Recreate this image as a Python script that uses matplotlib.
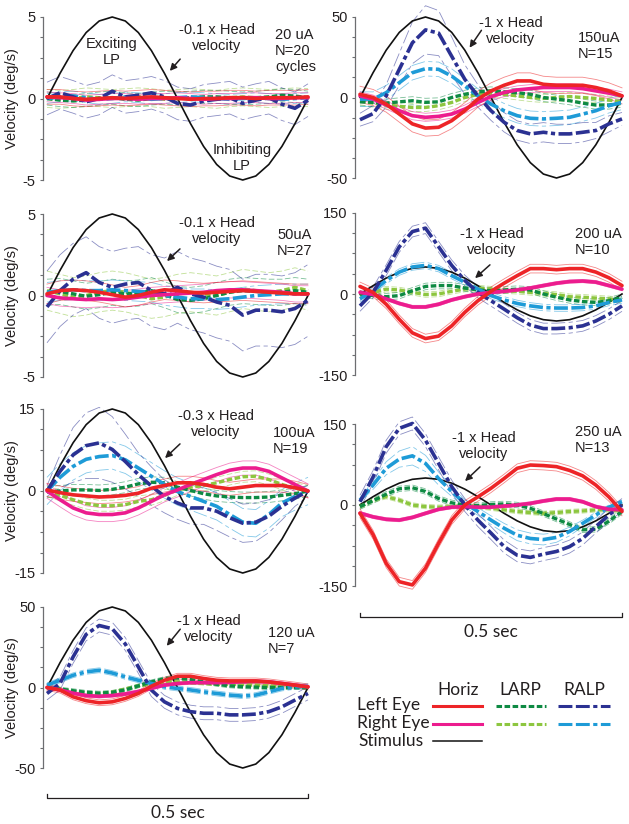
import numpy as np
import matplotlib
matplotlib.use('Agg')
import matplotlib.pyplot as plt
from matplotlib.lines import Line2D
from matplotlib.patches import FancyArrowPatch
import matplotlib.transforms as mtransforms

# ---------------- data ----------------
time = [0.0, 0.05, 0.1, 0.15, 0.2, 0.25, 0.3, 0.35, 0.4, 0.45, 0.5,
        0.55, 0.6, 0.65, 0.7, 0.75, 0.8, 0.85, 0.9, 0.95, 1.0]
stim_shape = [0.0, 0.309, 0.588, 0.809, 0.951, 1.0, 0.951, 0.809, 0.588, 0.309, 0.0,
              -0.309, -0.588, -0.809, -0.951, -1.0, -0.951, -0.809, -0.588, -0.309, 0.0]

# 20 uA
p20_LH = [0.1, 0.1, 0.0, -0.05, 0.0, 0.05, 0.0, 0.05, 0.1, 0.05, 0.0, -0.05, 0.0, 0.0, 0.05, 0.05, 0.0, 0.05, 0.05, 0.05, 0.1]
p20_RH = [0.1, 0.05, 0.0, -0.1, -0.05, 0.0, 0.0, -0.05, 0.0, 0.0, 0.05, 0.0, -0.05, 0.0, 0.0, 0.05, 0.05, 0.0, 0.0, 0.05, 0.05]
p20_LL = [0.0, -0.1, -0.15, -0.1, 0.0, 0.05, -0.05, -0.1, 0.0, 0.05, 0.0, 0.05, 0.1, 0.1, 0.05, 0.0, 0.05, 0.1, 0.2, 0.15, 0.05]
p20_RL = [0.0, -0.05, 0.0, 0.1, 0.05, 0.0, 0.05, 0.1, 0.05, -0.05, 0.0, 0.05, 0.0, -0.05, 0.05, 0.1, 0.05, 0.0, 0.05, 0.1, 0.05]
p20_LR = [0.0, 0.35, 0.1, -0.2, 0.0, 0.45, 0.1, 0.2, 0.35, 0.1, -0.3, -0.4, -0.15, -0.05, 0.05, -0.3, -0.1, 0.05, -0.35, -0.6, -0.1]
p20_RR = [0.0, 0.1, 0.15, 0.05, -0.05, 0.0, 0.1, 0.05, -0.05, 0.0, 0.05, 0.1, 0.05, 0.0, -0.05, 0.0, 0.05, 0.0, -0.05, 0.0, 0.05]
p20_sd = {'LH': 0.45, 'RH': 0.3, 'LL': 0.4, 'RL': 0.55, 'LR': 1.0, 'RR': 0.3}

# 50 uA
p50_LH = [0.1, 0.3, 0.35, 0.3, 0.2, 0.05, -0.1, 0.0, 0.2, 0.35, 0.3, 0.2, 0.15, 0.2, 0.25, 0.3, 0.25, 0.2, 0.15, 0.1, 0.1]
p50_RH = [0.0, -0.15, -0.2, -0.25, -0.2, -0.25, -0.2, -0.1, 0.0, 0.05, 0.1, 0.15, 0.2, 0.3, 0.35, 0.35, 0.3, 0.25, 0.2, 0.1, 0.1]
p50_LL = [0.2, 0.25, 0.1, -0.05, 0.05, 0.2, 0.1, 0.15, 0.3, 0.05, -0.25, -0.3, -0.2, 0.0, 0.2, 0.3, 0.25, 0.2, 0.2, 0.3, 0.2]
p50_RL = [0.3, 0.1, -0.1, 0.0, 0.2, 0.3, 0.2, 0.0, -0.2, -0.1, 0.1, 0.2, 0.1, 0.0, 0.2, 0.4, 0.3, 0.2, 0.3, 0.5, 0.3]
p50_LR = [-0.7, 0.3, 1.0, 1.4, 0.8, 0.5, 0.7, 0.8, 0.3, 0.1, 0.5, 0.1, -0.1, -0.4, -0.6, -1.2, -0.9, -0.9, -1.0, -0.8, -0.3]
p50_RR = [0.2, 0.3, 0.35, 0.3, 0.3, 0.35, 0.3, 0.25, 0.2, 0.0, -0.1, -0.2, -0.2, -0.25, -0.2, -0.1, 0.0, 0.05, 0.1, 0.1, 0.1]
p50_sd = {'LH': 0.6, 'RH': 0.5, 'LL': 0.8, 'RL': 1.2, 'LR': 2.2, 'RR': 0.6}

# 100 uA
p100_LH = [0.2, -0.3, -0.7, -0.9, -1.1, -1.0, -0.8, -0.4, 0.5, 1.0, 1.5, 1.5, 1.2, 0.7, 0.4, 0.7, 1.0, 1.0, 1.0, 0.6, 0.0]
p100_RH = [0.0, -1.6, -3.1, -4.0, -4.3, -4.3, -4.0, -3.1, -1.9, -0.7, 0.2, 1.2, 2.1, 3.0, 3.8, 4.2, 4.2, 3.6, 2.4, 1.2, 0.0]
p100_LL = [-0.2, 0.0, 0.2, 0.2, 0.1, 0.3, 0.7, 1.3, 1.6, 1.5, 0.7, 0.1, -0.5, -0.9, -1.1, -1.2, -1.2, -1.1, -0.8, -0.5, 0.0]
p100_RL = [0.0, -0.8, -1.6, -2.3, -2.7, -2.7, -2.5, -1.9, -1.6, -0.8, 0.2, 0.7, 1.0, 1.5, 2.1, 2.6, 2.7, 2.1, 1.2, 0.5, 0.0]
p100_LR = [0.0, 3.6, 6.6, 8.3, 8.8, 7.6, 5.4, 3.0, 0.9, -1.0, -2.2, -3.1, -3.1, -3.7, -4.9, -5.9, -5.7, -4.6, -2.8, -1.3, 0.0]
p100_RR = [0.0, 2.5, 4.5, 5.8, 6.3, 6.5, 5.7, 4.2, 2.7, 1.2, -0.1, -1.0, -1.9, -2.8, -4.3, -5.7, -5.9, -4.3, -2.2, -1.0, 0.0]
p100_sd = {'LH': 1.2, 'RH': 1.3, 'LL': 1.0, 'RL': 1.0,
           'LR': [1, 3, 5, 6, 6.5, 6, 5, 4, 3.5, 3, 3, 3, 3, 3.5, 3.5, 3.5, 3.5, 3, 2.5, 1.5, 1],
           'RR': 2.5}

# 120 uA
p120_LH = [0.0, -1.6, -5.8, -8.2, -9.5, -8.9, -6.8, -3.7, 0.8, 4.5, 7.0, 7.0, 5.6, 4.5, 4.1, 4.1, 4.1, 3.5, 2.5, 1.5, 0.4]
p120_RH = [0.0, -1.5, -3.5, -5.0, -5.5, -5.0, -4.0, -2.5, -0.5, 1.5, 2.5, 3.0, 3.0, 3.0, 3.2, 3.5, 3.8, 3.5, 2.5, 1.5, 0.5]
p120_LL = [0.0, -1.0, -2.0, -3.0, -3.5, -3.0, -1.5, 1.0, 3.5, 5.5, 6.0, 5.0, 3.5, 2.0, 1.0, 0.5, 0.2, 0.0, 0.0, 0.0, 0.0]
p120_RL = [0.0, -1.0, -2.5, -3.5, -4.0, -3.0, -1.0, 1.0, 2.5, 3.5, 3.5, 3.0, 2.5, 2.0, 2.0, 2.0, 1.5, 1.0, 0.5, 0.3, 0.0]
p120_LR = [-3.7, 2.5, 19.0, 33.0, 38.5, 36.5, 27.0, 12.8, -1.6, -8.9, -13.0, -15.0, -16.0, -16.0, -17.0, -17.0, -16.5, -15.0, -12.0, -7.8, -3.7]
p120_RR = [1.4, 4.5, 7.6, 9.7, 10.7, 9.0, 6.6, 4.5, 2.5, 0.4, -0.6, -1.5, -2.7, -3.7, -4.7, -5.4, -4.7, -2.7, -0.6, 0.4, 0.8]
p120_sd = {'LH': 1.8, 'RH': 1.0, 'LL': 1.2, 'RL': 1.0, 'LR': 4.0, 'RR': 1.5}

# 150 uA
p150_LH = [2.0, 0.0, -4.1, -10.3, -16.4, -19.0, -18.5, -14.4, -8.2, -1.0, 4.1, 7.6, 10.3, 10.3, 8.2, 7.6, 7.6, 7.6, 6.2, 4.1, 1.0]
p150_RH = [1.0, -1.0, -4.7, -8.2, -11.3, -12.3, -11.7, -10.3, -7.2, -3.1, 0.6, 3.1, 4.7, 5.5, 6.2, 6.2, 6.2, 5.5, 4.1, 2.7, 1.0]
p150_LL = [-2.7, -3.0, -3.5, -2.7, -2.0, -3.0, -2.7, 0.0, 2.0, 3.5, 4.1, 3.5, 3.0, 2.0, 0.0, -1.0, -2.0, -3.5, -4.7, -4.7, -3.5]
p150_RL = [-2.0, -3.5, -4.7, -5.5, -6.2, -6.2, -5.1, -3.1, 0.0, 2.0, 2.5, 2.0, 1.0, 0.0, -0.6, 0.0, 0.6, 0.0, -0.6, -1.6, -2.7]
p150_LR = [-13.8, -10.0, 1.0, 17.5, 34.0, 42.0, 40.0, 25.6, 11.3, 1.0, -8.2, -15.4, -20.5, -22.6, -21.6, -22.6, -22.6, -21.6, -20.5, -16.4, -13.3]
p150_RR = [-1.0, -1.0, 3.0, 9.2, 15.4, 17.9, 17.5, 13.3, 7.2, 1.0, -4.1, -8.2, -11.3, -12.9, -13.3, -12.9, -12.3, -10.3, -8.2, -5.1, -3.0]
p150_sd = {'LH': 5.0, 'RH': 2.5, 'LL': 2.5, 'RL': 2.5,
           'LR': [4, 5, 7, 10, 13, 15, 14, 12, 9, 7, 6, 6, 6, 6, 6, 6, 6, 6, 5, 5, 4],
           'RR': 4.5}

# 200 uA
p200_LH = [14.0, 3.0, -19.0, -47.0, -72.0, -82.5, -78.0, -59.0, -34.0, -12.5, 5.0, 20.0, 34.0, 47.0, 47.0, 45.0, 47.0, 47.0, 40.6, 30.0, 15.6]
p200_RH = [3.0, -1.0, -9.0, -17.5, -24.0, -24.0, -19.0, -11.0, -5.0, 0.0, 3.0, 5.0, 7.5, 11.0, 15.6, 20.0, 23.0, 24.0, 22.0, 15.6, 9.0]
p200_LL = [0.0, -3.0, -5.0, -3.0, 6.0, 14.0, 15.6, 15.6, 11.0, 7.5, 6.0, 7.5, 9.0, 7.5, 0.0, -6.0, -11.0, -14.0, -15.6, -12.5, -6.0]
p200_RL = [-3.0, 3.0, 9.0, 7.5, 3.0, -1.0, 0.0, 5.0, 9.0, 11.0, 9.0, 6.0, 5.0, 3.0, 1.0, -1.0, -5.0, -6.0, -7.5, -9.0, -11.0]
p200_LR = [-22.0, 3.0, 44.0, 87.5, 115.6, 122.0, 87.5, 53.0, 25.0, 3.0, -12.5, -28.0, -44.0, -57.5, -64.0, -64.0, -62.5, -59.0, -50.0, -37.5, -22.0]
p200_RR = [-9.0, 6.0, 25.0, 40.6, 50.0, 53.0, 47.0, 34.0, 22.0, 9.0, -3.0, -11.0, -17.5, -22.0, -25.0, -26.0, -26.0, -25.0, -22.0, -15.6, -11.0]
p200_sd = {'LH': 8.0, 'RH': 3.0, 'LL': 6.0, 'RL': 5.0, 'LR': 10.0, 'RR': 6.0}

# 250 uA
p250_LH = [-15.4, -55.0, -108.0, -142.0, -148.0, -117.0, -71.0, -28.0, 0.0, 15.0, 31.0, 49.0, 68.0, 74.0, 73.0, 71.0, 64.0, 54.0, 37.0, 15.0, -12.0]
p250_RH = [-15.0, -22.0, -26.5, -28.0, -23.0, -15.4, -8.0, -4.0, -3.0, -4.0, -4.0, -2.0, 0.0, 3.0, 7.4, 11.0, 11.0, 6.0, -3.0, -8.0, -9.0]
p250_LL = [-3.0, 8.0, 20.0, 30.0, 32.0, 25.0, 12.0, 4.0, 0.0, -1.0, 1.0, 2.0, 0.0, -6.0, -16.0, -26.0, -36.0, -46.0, -45.0, -30.0, -12.0]
p250_RL = [-3.0, 9.0, 15.4, 9.0, 0.0, -3.0, -4.0, -3.0, -2.0, -3.0, -6.0, -9.0, -12.0, -14.0, -15.4, -14.0, -12.0, -11.0, -9.0, -9.0, -10.5]
p250_LR = [6.0, 52.0, 108.0, 142.0, 151.0, 120.0, 77.0, 34.0, 0.0, -28.0, -52.0, -77.0, -93.0, -97.0, -91.0, -86.0, -77.0, -62.0, -40.0, -18.5, 0.0]
p250_RR = [9.0, 37.0, 68.0, 85.0, 91.0, 77.0, 49.0, 25.0, 3.0, -12.0, -28.0, -43.0, -56.0, -62.0, -64.0, -60.0, -49.0, -34.0, -18.5, -4.0, 6.0]
p250_sd = {'LH': 8.0, 'RH': 3.0, 'LL': 5.0, 'RL': 4.0, 'LR': 12.0,
           'RR': [3, 8, 12, 15, 17, 15, 12, 9, 7, 7, 8, 9, 10, 10, 10, 9, 8, 6, 5, 4, 3]}

stim_amp = {'20': 5, '50': 5, '100': 15, '120': 50, '150': 50, '200': 50, '250': 50}
y_max = {'20': 5, '50': 5, '100': 15, '120': 50, '150': 50, '200': 150, '250': 150}
head_gain = {'20': '-0.1', '50': '-0.1', '100': '-0.3', '120': '-1', '150': '-1', '200': '-1', '250': '-1'}
stim_labels = {'20': '20 uA\nN=20\ncycles', '50': '50uA\nN=27', '100': '100uA\nN=19',
               '120': '120 uA\nN=7', '150': '150uA\nN=15', '200': '200 uA\nN=10', '250': '250 uA\nN=13'}

# ---------------- style ----------------
plt.rcParams['font.family'] = ['Liberation Sans', 'DejaVu Sans']
plt.rcParams['lines.scale_dashes'] = False
W, H = 629, 824
TXT = '#231f20'
AXC = '#6d6e71'
FS = 10.5

dash_larp = (0, (4.0, 1.8))
dash_ralp = (0, (10.0, 2.5, 10.0, 2.5, 3.0, 2.5))
styles = {
    'RL': dict(color='#8DC63F', ls=dash_larp, lw=2.4),
    'LL': dict(color='#0E8A43', ls=dash_larp, lw=2.4),
    'RR': dict(color='#1E9BD7', ls=dash_ralp, lw=2.6),
    'LR': dict(color='#2B3192', ls=dash_ralp, lw=2.6),
    'RH': dict(color='#EC1C8E', ls='-', lw=2.6),
    'LH': dict(color='#ED2427', ls='-', lw=2.6),
}
order = ['RL', 'LL', 'RR', 'LR', 'RH', 'LH']

fig = plt.figure(figsize=(W / 100, H / 100), dpi=100)


def fx(x):
    return x / W


def fy(y):
    return 1 - y / H


panels = [
    ('20', dict(LH=p20_LH, RH=p20_RH, LL=p20_LL, RL=p20_RL, LR=p20_LR, RR=p20_RR), p20_sd, (43, 308, 17, 180, 47)),
    ('50', dict(LH=p50_LH, RH=p50_RH, LL=p50_LL, RL=p50_RL, LR=p50_LR, RR=p50_RR), p50_sd, (43, 308, 214, 377, 47)),
    ('100', dict(LH=p100_LH, RH=p100_RH, LL=p100_LL, RL=p100_RL, LR=p100_LR, RR=p100_RR), p100_sd, (43, 308, 409, 573, 47)),
    ('120', dict(LH=p120_LH, RH=p120_RH, LL=p120_LL, RL=p120_RL, LR=p120_LR, RR=p120_RR), p120_sd, (43, 308, 607, 768, 47)),
    ('150', dict(LH=p150_LH, RH=p150_RH, LL=p150_LL, RL=p150_RL, LR=p150_LR, RR=p150_RR), p150_sd, (355, 622, 17, 178, 360)),
    ('200', dict(LH=p200_LH, RH=p200_RH, LL=p200_LL, RL=p200_RL, LR=p200_LR, RR=p200_RR), p200_sd, (355, 622, 213, 375, 360)),
    ('250', dict(LH=p250_LH, RH=p250_RH, LL=p250_LL, RL=p250_RL, LR=p250_LR, RR=p250_RR), p250_sd, (355, 622, 424, 586, 360)),
]

axes = {}
tvals = np.array(time)
for key, traces, sds, (l, r, tp, bt, x0) in panels:
    ax = fig.add_axes([fx(l), fy(bt), (r - l) / W, (bt - tp) / H])
    ax.patch.set_alpha(0)
    ax.set_xlim(-(x0 - l) / (r - x0), 1.0)
    m = y_max[key]
    ax.set_ylim(-m, m)
    for sp in ['top', 'right', 'bottom']:
        ax.spines[sp].set_visible(False)
    ax.spines['left'].set_color(AXC)
    ax.spines['left'].set_linewidth(0.9)
    ax.set_xticks([])
    ticks = [-m, -0.75 * m, -0.5 * m, -0.25 * m, 0, 0.25 * m, 0.5 * m, 0.75 * m, m]
    ax.set_yticks(ticks)
    ax.set_yticklabels(['-%d' % m, '', '', '', '0', '', '', '', '%d' % m])
    ax.tick_params(axis='y', direction='out', length=2.5, width=0.8, color=AXC,
                   labelsize=FS, labelcolor=TXT, pad=3)
    # SD lines
    for tr in order:
        st = styles[tr]
        mean = np.array(traces[tr], dtype=float)
        sd = np.broadcast_to(np.array(sds[tr], dtype=float), mean.shape)
        for sgn in (1, -1):
            ax.plot(tvals, mean + sgn * sd, color=st['color'], ls=st['ls'], lw=0.6,
                    alpha=0.55, zorder=2, clip_on=False)
    # stimulus
    ax.plot(tvals, stim_amp[key] * np.array(stim_shape), color='#111111', lw=1.2,
            zorder=3, clip_on=False)
    # means
    for i, tr in enumerate(order):
        st = styles[tr]
        ax.plot(tvals, traces[tr], color=st['color'], ls=st['ls'], lw=st['lw'],
                zorder=4 + i, clip_on=False, solid_capstyle='round')
    axes[key] = ax

# y labels
for key, (tp, bt) in [('20', (17, 180)), ('50', (214, 377)), ('100', (409, 573)), ('120', (607, 768))]:
    fig.text(fx(12), fy((tp + bt) / 2), 'Velocity (deg/s)', rotation=90, ha='center',
             va='center', fontsize=FS, color=TXT)

# annotations: head-text centre, arrow tail, arrow head, stim-label left/centre (pixels)
ann = {
    '20': ((217, 38), (182, 57), (168, 73), (275, 51)),
    '50': ((217, 231), (182, 247), (165, 263), (277, 243)),
    '100': ((216, 424), (182, 442), (163, 460), (273, 441)),
    '120': ((209, 629), (182, 627), (165, 648), (268, 641)),
    '150': ((511, 31), (483, 28), (468, 50), (578, 46)),
    '200': ((492, 242), (492, 263), (473, 280), (575, 242)),
    '250': ((484, 446), (482, 465), (463, 483), (575, 440)),
}
for key, ((hx, hy), (ax0, ay0), (ax1, ay1), (nx, ny)) in ann.items():
    fig.text(fx(hx), fy(hy), head_gain[key] + ' x Head\nvelocity', ha='center', va='center',
             fontsize=FS, color=TXT, linespacing=1.15, multialignment='center')
    fig.add_artist(FancyArrowPatch((fx(ax0), fy(ay0)), (fx(ax1), fy(ay1)),
                                   transform=fig.transFigure, arrowstyle='-|>',
                                   mutation_scale=10, lw=1.1, color=TXT))
    fig.text(fx(nx), fy(ny), stim_labels[key], ha='left', va='center', fontsize=FS,
             color=TXT, linespacing=1.15)

fig.text(fx(112), fy(52), 'Exciting\nLP', ha='center', va='center', fontsize=FS,
         color=TXT, linespacing=1.15)
fig.text(fx(242), fy(158), 'Inhibiting\nLP', ha='center', va='center', fontsize=FS,
         color=TXT, linespacing=1.15)

# time scale brackets (span the full cycle = 0.5 s)
for key, yb, ytxt in [('120', -0.186, 813), ('250', -0.191, 632)]:
    ax = axes[key]
    tr = ax.get_xaxis_transform()
    ax.plot([time[0], time[0], time[-1], time[-1]], [yb + 0.025, yb, yb, yb + 0.025],
            transform=tr, clip_on=False, color='#231f20', lw=0.9)
    bt = mtransforms.blended_transform_factory(ax.transData, fig.transFigure)
    ax.text((time[0] + time[-1]) / 2, fy(ytxt), '0.5 sec', transform=bt, ha='center',
            va='center', fontsize=12.5, color=TXT, family=['Lato', 'DejaVu Sans'])

# legend
LFS = 12.5
lfam = ['Lato', 'DejaVu Sans']
for name, cx in [('Horiz', 458), ('LARP', 520), ('RALP', 584)]:
    fig.text(fx(cx), fy(690), name, ha='center', va='center', fontsize=LFS, color=TXT, family=lfam)
rows = [('Left Eye', 705, ['LH', 'LL', 'LR']), ('Right Eye', 723, ['RH', 'RL', 'RR'])]
for label, yy, trs in rows:
    fig.text(fx(357), fy(yy), label, ha='left', va='center', fontsize=LFS, color=TXT, family=lfam)
    for tr, (xa, xb) in zip(trs, [(433, 482), (496, 546), (558, 610)]):
        st = styles[tr]
        fig.add_artist(Line2D([fx(xa), fx(xb)], [fy(yy + 1), fy(yy + 1)], transform=fig.transFigure,
                              color=st['color'], ls=st['ls'], lw=2.2))
fig.text(fx(358), fy(741), 'Stimulus', ha='left', va='center', fontsize=LFS, color=TXT, family=lfam)
fig.add_artist(Line2D([fx(433), fx(482)], [fy(741), fy(741)], transform=fig.transFigure,
                      color='#111111', lw=1.1))

fig.savefig('out.png', dpi=100)
